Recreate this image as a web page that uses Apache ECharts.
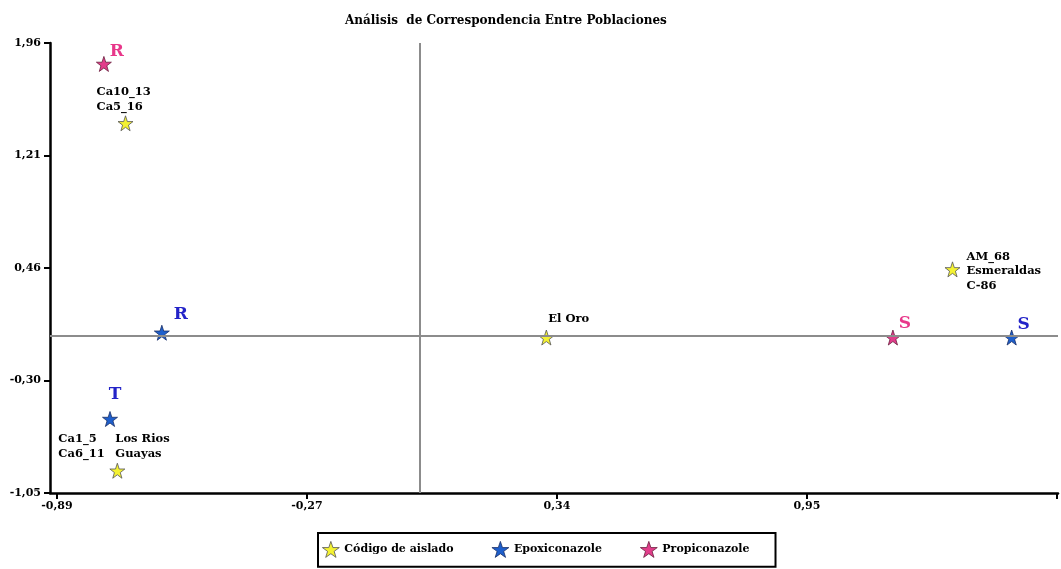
<!DOCTYPE html>
<html>
<head>
<meta charset="utf-8">
<script src="https://cdn.jsdelivr.net/npm/echarts@6/dist/echarts.min.js"></script>
<style>html,body{margin:0;padding:0;background:#fff}#c{width:1061px;height:569px}</style>
</head>
<body>
<div id="c"></div>
<script>
// ---- data ----
const titleText = 'Análisis  de Correspondencia Entre Poblaciones';
const seriesNames = ['Código de aislado', 'Epoxiconazole', 'Propiconazole'];
const codigoX = [-0.722, -0.742, 0.309, 1.304];
const codigoY = [1.423, -0.901, -0.01, 0.446];
const codigoLabels = ['Ca10_13\nCa5_16', 'Ca1_5\tLos Rios\nCa6_11\tGuayas', 'El Oro', 'AM_68\nEsmeraldas\nC-86'];
const epoxX = [-0.633, -0.760, 1.449];
const epoxY = [0.022, -0.555, -0.01];
const epoxLabels = ['R', 'T', 'S'];
const propiX = [-0.775, 1.158];
const propiY = [1.820, -0.01];
const propiLabels = ['R', 'S'];
const xTicks = [-0.89, -0.2775, 0.335, 0.9475, 1.56];
const xTickLabels = ['-0,89', '-0,27', '0,34', '0,95', ''];
const yTicks = [-1.05, -0.2975, 0.455, 1.2075, 1.96];
const yTickLabels = ['-1,05', '-0,30', '0,46', '1,21', '1,96'];

// ---- styles ----
const STAR = 'path://M50,0 L61.8,35.1 L98.1,35.1 L68.8,56.7 L79.4,91 L50,70 L20.6,91 L31.2,56.7 L1.9,35.1 L38.2,35.1 Z';
const FONT = 'DejaVu Serif';
const colors = { codigo: '#F4F232', epox: '#1E5FCC', propi: '#E23D8B' };
const codigoLabelPos = [[-29, -24], [-59, -24], [2, -19], [14, 2]];
const epoxLabelPos = [[19, -18], [5, -24], [12, -13]];
const propiLabelPos = [[13, -12], [12, -14]];

function pickLabel(ticks, labels, v) {
  const i = ticks.findIndex(t => Math.abs(t - v) < 1e-6);
  return i >= 0 ? labels[i] : '';
}

function buildData(xs, ys, labels, pos, letterColor, big) {
  return xs.map((x, i) => ({
    value: [x, ys[i]],
    name: labels[i],
    label: {
      show: true,
      position: 'inside',
      align: big ? 'center' : 'left',
      verticalAlign: 'middle',
      offset: pos[i],
      color: letterColor,
      opacity: 1,
      fontFamily: FONT,
      fontWeight: 'bold',
      fontSize: big ? 17 : 12,
      lineHeight: big ? 19 : 14.5,
      formatter: p => p.name.split('\n').map(l => {
        const parts = l.split('\t');
        return parts.length > 1 ? '{c1|' + parts[0] + '}{t|' + parts[1] + '}' : (big ? l : '{t|' + l + '}');
      }).join('\n'),
      rich: {
        t: { fontFamily: FONT, fontWeight: 'bold', fontSize: 11.5, color: '#000', lineHeight: 14.5 },
        c1: { fontFamily: FONT, fontWeight: 'bold', fontSize: 11.5, color: '#000', lineHeight: 14.5, width: 57 }
      }
    }
  }));
}

const chart = echarts.init(document.getElementById('c'), null, { renderer: 'canvas' });
chart.setOption({
  backgroundColor: '#fff',
  animation: false,
  title: {
    text: titleText, left: 340, top: 10,
    textStyle: { fontFamily: FONT, fontWeight: 'bold', fontSize: 12, color: '#000' }
  },
  grid: { left: 50, right: 3, top: 43, bottom: 76 },
  xAxis: {
    type: 'value', min: -0.907, max: 1.5625,
    axisLine: { show: true, onZero: false, lineStyle: { color: '#000', width: 2.5 } },
    axisTick: { show: true, length: 6, customValues: xTicks, lineStyle: { color: '#000', width: 2 } },
    axisLabel: {
      customValues: xTicks.slice(0, 4), margin: 8,
      formatter: v => pickLabel(xTicks, xTickLabels, v),
      fontFamily: FONT, fontWeight: 'bold', fontSize: 11, color: '#000'
    },
    splitLine: { show: false }
  },
  yAxis: {
    type: 'value', min: -1.05, max: 1.96,
    axisLine: { show: true, onZero: false, lineStyle: { color: '#000', width: 2.5 } },
    axisTick: { show: true, length: 6, customValues: yTicks, lineStyle: { color: '#000', width: 2 } },
    axisLabel: {
      customValues: yTicks, margin: 9,
      formatter: v => pickLabel(yTicks, yTickLabels, v),
      fontFamily: FONT, fontWeight: 'bold', fontSize: 11, color: '#000'
    },
    splitLine: { show: false }
  },
  legend: {
    left: 318, top: 533,
    data: seriesNames.map(n => ({ name: n, icon: STAR, itemStyle: { borderWidth: 0.8 } })),
    itemWidth: 17, itemHeight: 16, itemGap: 38,
    borderColor: '#000', borderWidth: 2, padding: [8, 26, 9, 4],
    backgroundColor: '#fff',
    textStyle: { fontFamily: FONT, fontWeight: 'bold', fontSize: 11, color: '#000' }
  },
  series: [
    {
      type: 'line', name: 'ref', data: [], z: 1, silent: true,
      markLine: {
        silent: true, symbol: 'none', label: { show: false },
        lineStyle: { color: '#8c8c8c', width: 2, type: 'solid' },
        data: [{ xAxis: 0 }, { yAxis: 0 }]
      }
    },
    {
      type: 'scatter', name: seriesNames[0], z: 3, symbol: STAR, symbolSize: 15,
      itemStyle: { color: colors.codigo, borderColor: '#555', borderWidth: 0.8, opacity: 1 },
      data: buildData(codigoX, codigoY, codigoLabels, codigoLabelPos, '#000', false)
    },
    {
      type: 'scatter', name: seriesNames[1], z: 3, symbol: STAR, symbolSize: 15,
      itemStyle: { color: colors.epox, borderColor: '#1a2f66', borderWidth: 0.8, opacity: 1 },
      data: buildData(epoxX, epoxY, epoxLabels, epoxLabelPos, '#2323C8', true)
    },
    {
      type: 'scatter', name: seriesNames[2], z: 3, symbol: STAR, symbolSize: 15,
      itemStyle: { color: colors.propi, borderColor: '#6a1e3e', borderWidth: 0.8, opacity: 1 },
      data: buildData(propiX, propiY, propiLabels, propiLabelPos, '#E8378A', true)
    }
  ]
});
</script>
</body>
</html>
